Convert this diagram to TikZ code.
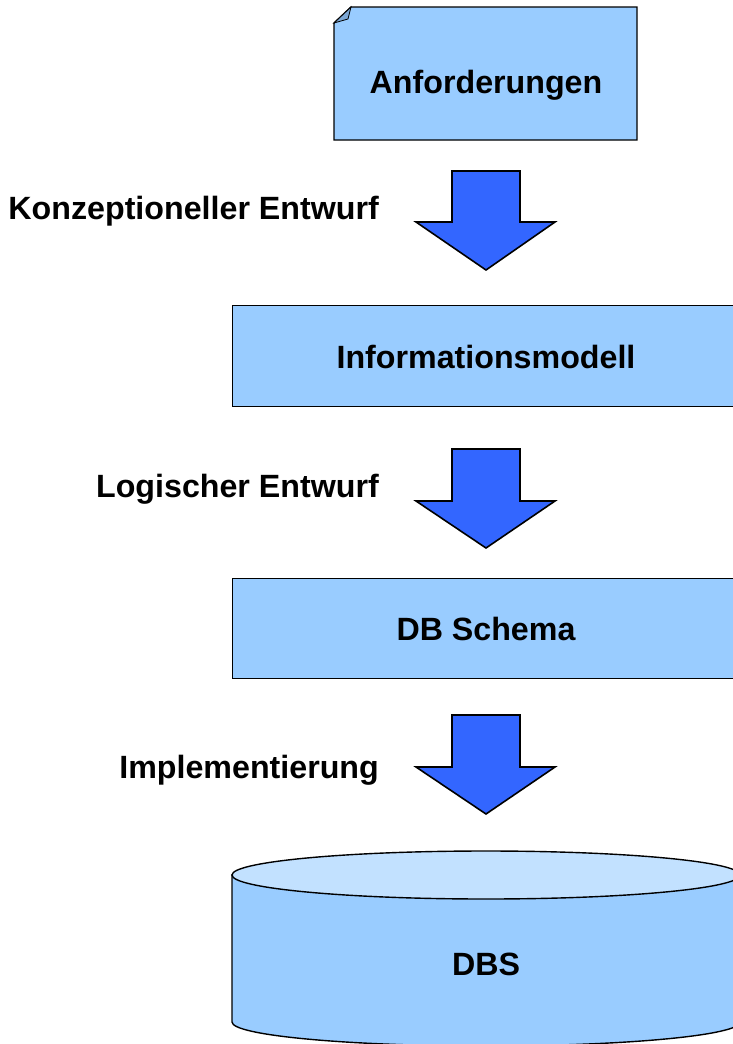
\documentclass[tikz,border=0pt]{standalone}
\usepackage{fontspec}
\setmainfont{Liberation Sans}
\definecolor{boxblue}{HTML}{99CCFF}
\definecolor{topblue}{HTML}{C2E1FF}
\definecolor{foldblue}{HTML}{7DA8D6}
\definecolor{arrowblue}{HTML}{3366FF}
\begin{document}
\begin{tikzpicture}[x=1pt,y=-1pt,
  boxstyle/.style={draw=black,line width=1.4pt,fill=boxblue},
  bigarrow/.style={draw=black,line width=1.6pt,fill=arrowblue,line join=miter},
  txt/.style={font=\fontsize{32.2}{36}\selectfont\bfseries,inner sep=0pt},
  lbl/.style={txt,anchor=base east}]
\useasboundingbox (0,0) rectangle (733,1044);
\clip (0,0) rectangle (733,1044);
% Anforderungen (document shape)
\coordinate (dA) at (351,7);
\coordinate (dB) at (637,7);
\coordinate (dC) at (637,140);
\coordinate (dD) at (334,140);
\coordinate (dE) at (334,23);
\draw[boxstyle] (dA) -- (dB) -- (dC) -- (dD) -- (dE) -- cycle;
\coordinate (dF) at (348,19);
\draw[fill=foldblue,line width=0.8pt] (dE) -- (dA) -- (dF) -- cycle;
\node[txt,anchor=base] (anf) at (486,93) {Anforderungen};
% Arrow 1
\draw[bigarrow] (452,171) -- (520,171) -- (520,222) -- (555,222) -- (486,270) -- (416,222) -- (452,222) -- cycle;
\node[lbl] (l1) at (379,219) {Konzeptioneller Entwurf};
% Informationsmodell
\node[boxstyle,minimum width=508pt,minimum height=101pt,anchor=north west] (im) at (232,305) {};
\node[txt,anchor=base] (imt) at (486,368) {Informationsmodell};
% Arrow 2
\draw[bigarrow] (452,449) -- (520,449) -- (520,501) -- (555,501) -- (486,548) -- (416,501) -- (452,501) -- cycle;
\node[lbl] (l2) at (379,497) {Logischer Entwurf};
% DB Schema
\node[boxstyle,minimum width=508pt,minimum height=100pt,anchor=north west] (db) at (232,578) {};
\node[txt,anchor=base] (dbt) at (486,640) {DB Schema};
% Arrow 3
\draw[bigarrow] (452,715) -- (520,715) -- (520,767) -- (555,767) -- (486,814) -- (416,767) -- (452,767) -- cycle;
\node[lbl] (l3) at (379,778) {Implementierung};
% Cylinder DBS
\draw[draw=black,line width=1.4pt,fill=boxblue] (232,875) -- (232,1022) arc[start angle=180,end angle=0,x radius=254,y radius=24] -- (740,875) -- cycle;
\draw[draw=black,line width=1.4pt,fill=topblue] (486,875) ellipse[x radius=254,y radius=24];
\node[txt,anchor=base] (dbs) at (486,975) {DBS};
\end{tikzpicture}
\end{document}
